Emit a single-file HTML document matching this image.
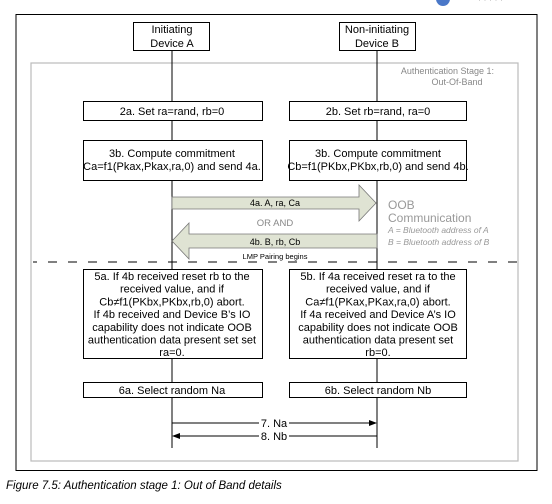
<!DOCTYPE html>
<html><head><meta charset="utf-8"><style>
html,body{margin:0;padding:0;background:#fff;}
svg{display:block;font-family:"Liberation Sans",Arial,sans-serif;}
</style></head><body>
<svg width="552" height="504" viewBox="0 0 552 504" xmlns="http://www.w3.org/2000/svg">
<circle cx="443" cy="-1" r="7" fill="#4a78c8"/>
<text x="478" y="3" font-size="9" fill="#ccc">· · · · ·</text>
<rect x="16" y="14.5" width="521" height="456" fill="none" stroke="#000" stroke-width="1"/>
<rect x="31" y="63" width="487" height="398" fill="none" stroke="#bbb" stroke-width="1.2"/>
<text x="494" y="74" font-size="9" fill="#888" text-anchor="end">Authentication Stage 1:</text>
<text x="457" y="85" font-size="9" fill="#888" text-anchor="middle">Out-Of-Band</text>
<g stroke="#000" stroke-width="1">
<line x1="172" y1="50" x2="172" y2="448"/>
<line x1="377" y1="50" x2="377" y2="448"/>
</g>
<g fill="#fff" stroke="#000" stroke-width="1">
<rect x="133.5" y="22.5" width="76" height="28"/>
<rect x="339.5" y="22.5" width="76" height="28"/>
<rect x="83.5" y="101.5" width="179" height="19"/>
<rect x="289.5" y="101.5" width="177" height="19"/>
<rect x="83.5" y="140.5" width="179" height="40"/>
<rect x="289.5" y="140.5" width="177" height="40"/>
<rect x="83.5" y="269.5" width="179" height="89"/>
<rect x="289.5" y="269.5" width="177" height="89"/>
<rect x="83.5" y="382.5" width="179" height="15"/>
<rect x="289.5" y="382.5" width="177" height="15"/>
</g>
<g font-size="11" fill="#000" text-anchor="middle">
<text x="172" y="33">Initiating</text><text x="172" y="47">Device A</text>
<text x="377" y="33">Non-initiating</text><text x="377" y="47">Device B</text>
<text x="172" y="115">2a. Set ra=rand, rb=0</text>
<text x="378" y="115">2b. Set rb=rand, ra=0</text>
<text x="172" y="157">3b. Compute commitment</text>
<text x="172" y="170">Ca=f1(Pkax,Pkax,ra,0) and send 4a.</text>
<text x="378" y="157">3b. Compute commitment</text>
<text x="378" y="170">Cb=f1(PKbx,PKbx,rb,0) and send 4b.</text>
<text x="172" y="280">5a. If 4b received reset rb to the</text>
<text x="172" y="292.7">received value, and if</text>
<text x="172" y="305.4">Cb≠f1(PKbx,PKbx,rb,0) abort.</text>
<text x="172" y="318.1">If 4b received and Device B’s IO</text>
<text x="172" y="330.8">capability does not indicate OOB</text>
<text x="172" y="343.5">authentication data present set set</text>
<text x="172" y="356.2">ra=0.</text>
<text x="378" y="280">5b. If 4a received reset ra to the</text>
<text x="378" y="292.7">received value, and if</text>
<text x="378" y="305.4">Ca≠f1(PKax,PKax,ra,0) abort.</text>
<text x="378" y="318.1">If 4a received and Device A’s IO</text>
<text x="378" y="330.8">capability does not indicate OOB</text>
<text x="378" y="343.5">authentication data present set</text>
<text x="378" y="356.2">rb=0.</text>
<text x="172" y="394">6a. Select random Na</text>
<text x="378" y="394">6b. Select random Nb</text>
</g>
<polygon points="172,197 359,197 359,185 376,203 359,221 359,209 172,209" fill="#dfe3d3" stroke="#777" stroke-width="0.8"/>
<polygon points="377,234 189,234 189,223 172,241 189,259 189,248 377,248" fill="#dfe3d3" stroke="#777" stroke-width="0.8"/>
<g font-size="9" fill="#000" text-anchor="middle">
<text x="275" y="206">4a. A, ra, Ca</text>
<text x="275" y="245">4b. B, rb, Cb</text>
</g>
<text x="275" y="226" font-size="9.5" fill="#888" text-anchor="middle">OR AND</text>
<text x="275" y="259" font-size="7.5" fill="#000" text-anchor="middle">LMP Pairing begins</text>
<line x1="33" y1="262" x2="518" y2="262" stroke="#000" stroke-width="1" stroke-dasharray="9 11" stroke-dashoffset="5"/>
<text x="388" y="209" font-size="12" fill="#999">OOB</text>
<text x="388" y="222" font-size="12" fill="#999">Communication</text>
<text x="388" y="233" font-size="8.5" font-style="italic" fill="#999">A = Bluetooth address of A</text>
<text x="388" y="245" font-size="8.5" font-style="italic" fill="#999">B = Bluetooth address of B</text>
<line x1="172" y1="423" x2="370" y2="423" stroke="#000"/>
<polygon points="377,423 369,420 369,426" fill="#000"/>
<line x1="179" y1="436" x2="377" y2="436" stroke="#000"/>
<polygon points="172,436 180,433 180,439" fill="#000"/>
<rect x="259" y="417" width="30" height="12" fill="#fff"/>
<rect x="259" y="430" width="30" height="12" fill="#fff"/>
<text x="274" y="427" font-size="11" text-anchor="middle">7. Na</text>
<text x="274" y="440" font-size="11" text-anchor="middle">8. Nb</text>
<text x="6" y="489" font-size="11.5" font-style="italic">Figure 7.5:  Authentication stage 1: Out of Band details</text>
</svg>
</body></html>
